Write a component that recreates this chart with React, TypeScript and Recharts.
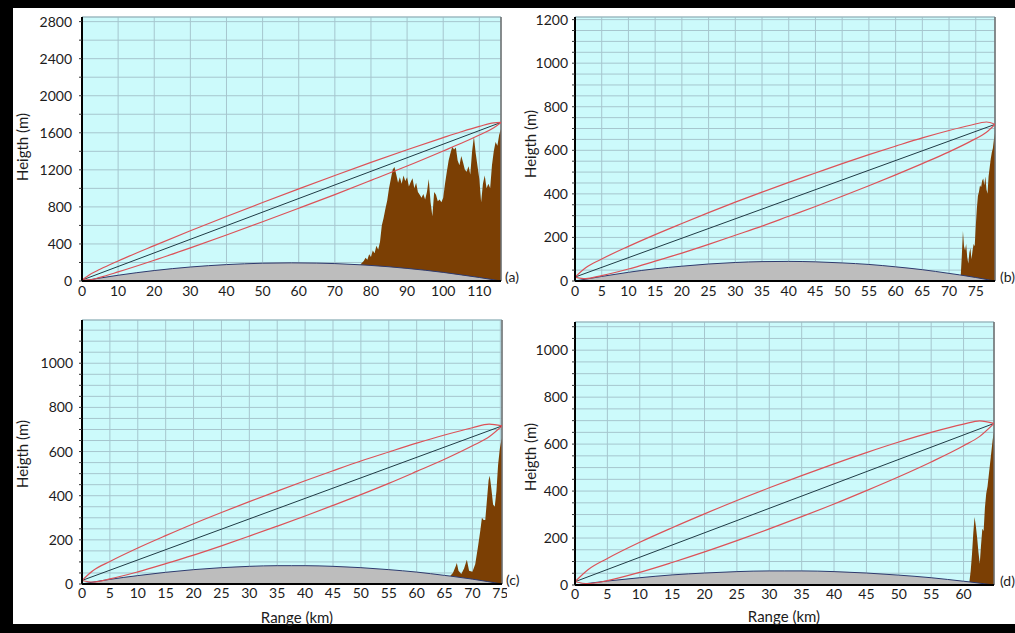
import { ComposedChart, Area, Line, XAxis, YAxis, CartesianGrid, ReferenceLine } from 'recharts';

// colours
const SKY = '#CCFAFB';
const GRID = '#A6C6CE';
const BROWN = '#7B3F04';
const EARTH = '#BDBDBD';
const NAVY = '#2E3A6E';
const RED = '#DC5258';
const LOS = '#1F3B45';
const FONT = 'Lato, "Open Sans", sans-serif';
const INK = '#1c1c1c';

// ---------- panel (a) ----------
const xTicksA = [0, 10, 20, 30, 40, 50, 60, 70, 80, 90, 100, 110];
const yTicksA = [0, 200, 400, 600, 800, 1000, 1200, 1400, 1600, 1800, 2000, 2200, 2400, 2600, 2800];
const bulgeXA = [0, 5, 10, 20, 30, 40, 50, 58, 65, 70, 77, 80, 90, 100, 105, 110, 116];
const bulgeHA = [0, 32, 62, 113, 151, 177, 192, 196, 193, 188, 175, 168, 136, 93, 66, 38, 0];
const fresXA = [0, 2, 5, 10, 20, 30, 40, 50, 60, 70, 80, 90, 100, 105, 110, 114, 116];
const fresUpA = [10, 66, 126, 216, 382, 542, 696, 847, 995, 1139, 1280, 1417, 1548, 1611, 1669, 1708, 1712];
const fresLowA = [10, 12, 40, 98, 224, 358, 496, 639, 785, 933, 1086, 1241, 1404, 1487, 1577, 1654, 1712];
const losA: [number, number][] = [[0, 10], [116, 1712]];
const terrainA: [number, number][] = [
  [77, 175], [78, 215], [78.5, 250], [79, 230], [79.5, 290], [80, 260], [80.5, 330], [81, 300],
  [81.5, 380], [82, 340], [82.5, 420], [83, 600], [83.5, 680], [84, 780], [84.5, 870], [85, 1000],
  [85.5, 1100], [86, 1200], [86.5, 1230], [87, 1150], [87.5, 1060], [88, 1120], [88.5, 1050], [89, 1140],
  [89.5, 1080], [90, 1120], [90.5, 1020], [91, 1070], [91.5, 1110], [92, 1000], [92.5, 1060], [93, 960],
  [93.5, 930], [94, 900], [94.5, 940], [95, 880], [95.5, 960], [96, 1100], [96.5, 850], [97, 700],
  [97.5, 960], [98, 930], [98.5, 860], [99, 880], [99.5, 850], [100, 900], [100.5, 1050], [101, 1180],
  [101.5, 1300], [102, 1380], [102.5, 1450], [103, 1420], [103.5, 1440], [104, 1300], [104.5, 1250], [105, 1350],
  [105.5, 1280], [106, 1200], [106.5, 1180], [107, 1240], [107.5, 1150], [108, 1400], [108.5, 1560], [109, 1380],
  [109.5, 1240], [110, 1100], [110.5, 850], [111, 1050], [111.5, 1140], [112, 1000], [112.5, 1050], [113, 1000],
  [113.5, 1250], [114, 1400], [114.5, 1500], [115, 1460], [115.5, 1580], [116, 1640],
];

// ---------- panel (b) ----------
const xTicksB = [0, 5, 10, 15, 20, 25, 30, 35, 40, 45, 50, 55, 60, 65, 70, 75];
const yTicksB = [0, 50, 100, 150, 200, 250, 300, 350, 400, 450, 500, 550, 600, 650, 700, 750, 800, 850, 900, 950, 1000, 1050, 1100, 1150, 1200];
const bulgeXB = [0, 5, 10, 15, 20, 25, 30, 35, 40, 45, 50, 55, 60, 65, 70, 72, 75, 78.6];
const bulgeHB = [0, 21, 40, 56, 68, 78, 85, 89, 90, 88, 83, 76, 65, 52, 35, 28, 16, 0];
const fresXB = [0, 2, 5, 10, 15, 20, 25, 30, 35, 40, 45, 50, 55, 60, 65, 70, 74, 77, 78.6];
const fresUpB = [18, 61, 101, 159, 213, 264, 314, 362, 408, 453, 496, 539, 580, 619, 657, 691, 715, 730, 719];
const fresLowB = [18, 11, 25, 55, 91, 128, 168, 210, 252, 297, 342, 389, 437, 487, 539, 593, 641, 683, 719];
const losB: [number, number][] = [[0, 18], [78.6, 719]];
const terrainB: [number, number][] = [
  [72.2, 27], [72.4, 120], [72.6, 230], [72.8, 160], [73, 140], [73.2, 170], [73.4, 110], [73.6, 80],
  [73.8, 130], [74, 150], [74.2, 100], [74.4, 140], [74.6, 170], [74.8, 160], [75, 250], [75.2, 330],
  [75.4, 390], [75.6, 410], [75.8, 440], [76, 430], [76.2, 460], [76.4, 470], [76.6, 440], [76.8, 480],
  [77, 420], [77.2, 400], [77.4, 480], [77.6, 520], [77.8, 560], [78, 590], [78.2, 610], [78.4, 650], [78.6, 680],
];

// ---------- panel (c) ----------
const xTicksC = [0, 5, 10, 15, 20, 25, 30, 35, 40, 45, 50, 55, 60, 65, 70, 75];
const yTicksC = [0, 50, 100, 150, 200, 250, 300, 350, 400, 450, 500, 550, 600, 650, 700, 750, 800, 850, 900, 950, 1000, 1050, 1100, 1150];
const bulgeXC = [0, 5, 10, 15, 20, 25, 30, 35, 37.6, 40, 45, 50, 55, 60, 65, 66, 70, 75.3];
const bulgeHC = [0, 21, 38, 53, 65, 74, 80, 83, 83, 83, 80, 74, 65, 54, 39, 36, 22, 0];
const fresXC = [0, 2, 5, 10, 15, 20, 25, 30, 35, 40, 45, 50, 55, 60, 65, 70, 73, 75.3];
const fresUpC = [16, 61, 102, 163, 219, 273, 324, 373, 421, 468, 513, 557, 598, 638, 675, 708, 724, 716];
const fresLowC = [16, 9, 23, 55, 92, 131, 173, 217, 262, 308, 356, 405, 456, 510, 565, 626, 667, 716];
const losC: [number, number][] = [[0, 16], [75.3, 716]];
const terrainC: [number, number][] = [
  [66, 36], [66.5, 50], [67, 80], [67.2, 95], [67.5, 60], [68, 45], [68.5, 70], [69, 110],
  [69.4, 60], [70, 55], [70.5, 90], [71, 170], [71.4, 240], [71.7, 300], [72, 290], [72.3, 290],
  [72.6, 380], [72.9, 470], [73.1, 490], [73.4, 430], [73.7, 360], [74, 350], [74.3, 420], [74.6, 540],
  [74.9, 610], [75.1, 640], [75.3, 660],
];

// ---------- panel (d) ----------
const xTicksD = [0, 5, 10, 15, 20, 25, 30, 35, 40, 45, 50, 55, 60];
const yTicksD = [0, 50, 100, 150, 200, 250, 300, 350, 400, 450, 500, 550, 600, 650, 700, 750, 800, 850, 900, 950, 1000, 1050, 1100];
const bulgeXD = [0, 5, 10, 15, 20, 25, 30, 32.4, 35, 40, 45, 50, 55, 60, 61, 64.7];
const bulgeHD = [0, 17, 31, 43, 51, 57, 60, 60, 60, 57, 51, 42, 31, 16, 13, 0];
const fresXD = [0, 2, 5, 10, 15, 20, 25, 30, 35, 40, 45, 50, 55, 60, 62.5, 64.7];
const fresUpD = [14, 65, 113, 182, 244, 303, 360, 414, 466, 516, 564, 609, 650, 685, 699, 688];
const fresLowD = [14, 6, 19, 54, 96, 141, 189, 239, 291, 345, 402, 461, 524, 593, 633, 688];
const losD: [number, number][] = [[0, 14], [64.7, 688]];
const terrainD: [number, number][] = [
  [60.9, 13], [61.1, 60], [61.3, 130], [61.5, 220], [61.7, 290], [61.9, 250], [62.1, 200], [62.3, 140],
  [62.5, 90], [62.7, 170], [62.9, 240], [63.1, 230], [63.3, 330], [63.5, 390], [63.7, 420], [63.9, 470],
  [64.1, 520], [64.3, 570], [64.5, 620], [64.7, 650],
];

const pairs = (p: [number, number][]) => p.map(([x, h]) => ({ x, h }));
const zip = (xs: number[], hs: number[]) => xs.map((x, i) => ({ x, h: hs[i] }));
// small unlabelled tick marks along the range axis
const minorTicks = (max: number, step: number) =>
  Array.from({ length: Math.floor(max / step) + 1 }, (_, i) => +(i * step).toFixed(2));

interface Box {
  left: number; top: number; width: number; height: number;
  margin: { top: number; right: number; bottom: number; left: number };
  yWidth: number; yGap: number; xGap: number;
}

interface PanelProps {
  box: Box;
  xMax: number; yMax: number; xMinor: number;
  xTicks: number[]; yTicks: number[]; yLabelStep: number;
  terrain: [number, number][];
  bulgeX: number[]; bulgeH: number[];
  fresX: number[]; fresUp: number[]; fresLow: number[];
  los: [number, number][];
}

const tickStyle = { fontFamily: FONT, fontSize: 14, fill: INK };

function Panel(p: PanelProps) {
  const { box } = p;
  return (
    <div style={{ position: 'absolute', left: box.left, top: box.top }}>
      <ComposedChart width={box.width} height={box.height} margin={box.margin}>
        <CartesianGrid fill={SKY} stroke={GRID} strokeWidth={1} />
        <XAxis
          xAxisId="minor"
          type="number"
          dataKey="x"
          domain={[0, p.xMax]}
          ticks={minorTicks(p.xMax, p.xMinor)}
          interval={0}
          allowDataOverflow
          height={0}
          axisLine={false}
          tick={false}
          tickSize={3}
          tickLine={{ stroke: '#333' }}
        />
        <XAxis
          type="number"
          dataKey="x"
          domain={[0, p.xMax]}
          ticks={p.xTicks}
          interval={0}
          allowDataOverflow
          height={24}
          tickSize={4}
          tickLine={false}
          tickMargin={p.box.xGap}
          axisLine={{ stroke: '#000', strokeWidth: 2 }}
          tick={tickStyle}
        />
        <YAxis
          type="number"
          domain={[0, p.yMax]}
          ticks={p.yTicks}
          interval={0}
          allowDataOverflow
          width={box.yWidth}
          tickSize={3}
          tickLine={{ stroke: '#333' }}
          tickMargin={box.yGap}
          axisLine={{ stroke: '#000', strokeWidth: 2 }}
          tick={tickStyle}
          tickFormatter={(v: number) => (v % p.yLabelStep === 0 ? String(v) : '')}
        />
        <ReferenceLine y={p.yMax} stroke="#98B4BB" />
        <ReferenceLine x={p.xMax} stroke="#6f6f6f" strokeWidth={1.5} />
        <Area data={pairs(p.terrain)} dataKey="h" type="linear" stroke="none" fill={BROWN} fillOpacity={1} isAnimationActive={false} />
        <Area data={zip(p.bulgeX, p.bulgeH)} dataKey="h" type="monotone" stroke={NAVY} strokeWidth={1} fill={EARTH} fillOpacity={1} isAnimationActive={false} />
        <Line data={pairs(p.los)} dataKey="h" type="linear" stroke={LOS} strokeWidth={1} dot={false} isAnimationActive={false} />
        <Line data={zip(p.fresX, p.fresUp)} dataKey="h" type="monotone" stroke={RED} strokeWidth={1.2} dot={false} isAnimationActive={false} />
        <Line data={zip(p.fresX, p.fresLow)} dataKey="h" type="monotone" stroke={RED} strokeWidth={1.2} dot={false} isAnimationActive={false} />
      </ComposedChart>
    </div>
  );
}

const textStyle = { position: 'absolute' as const, fontFamily: FONT, fontSize: 15, color: INK, whiteSpace: 'nowrap' as const, lineHeight: 1 };

function YTitle({ cx, cy }: { cx: number; cy: number }) {
  return (
    <div style={{ ...textStyle, left: cx, top: cy, transform: 'translate(-50%, -50%) rotate(-90deg)' }}>Heigth (m)</div>
  );
}

function XTitle({ cx, cy }: { cx: number; cy: number }) {
  return <div style={{ ...textStyle, left: cx, top: cy, transform: 'translate(-50%, -50%)' }}>Range (km)</div>;
}

function Tag({ x, cy, t }: { x: number; cy: number; t: string }) {
  return <div style={{ ...textStyle, fontSize: 14, left: x, top: cy, transform: 'translateY(-50%)' }}>{t}</div>;
}

export default function App() {
  return (
    <div style={{ position: 'absolute', left: 0, top: 0, width: 1015, height: 633, background: '#000', overflow: 'hidden' }}>
      <div style={{ position: 'absolute', left: 13, top: 8, width: 1002, height: 616, background: '#fff' }} />
      <Panel
        box={{ left: 0, top: 0, width: 507, height: 310, margin: { top: 17, right: 6, bottom: 5, left: 0 }, yWidth: 82, yGap: 7, xGap: 1 }}
        xMax={116} yMax={2850} xMinor={2} xTicks={xTicksA} yTicks={yTicksA} yLabelStep={400}
        terrain={terrainA} bulgeX={bulgeXA} bulgeH={bulgeHA}
        fresX={fresXA} fresUp={fresUpA} fresLow={fresLowA} los={losA}
      />
      <Panel
        box={{ left: 505, top: 0, width: 500, height: 310, margin: { top: 17, right: 10, bottom: 5, left: 0 }, yWidth: 70, yGap: 4, xGap: 1 }}
        xMax={78.6} yMax={1212} xMinor={1} xTicks={xTicksB} yTicks={yTicksB} yLabelStep={200}
        terrain={terrainB} bulgeX={bulgeXB} bulgeH={bulgeHB}
        fresX={fresXB} fresUp={fresUpB} fresLow={fresLowB} los={losB}
      />
      <Panel
        box={{ left: 0, top: 300, width: 507, height: 310, margin: { top: 20, right: 5, bottom: 2, left: 0 }, yWidth: 82, yGap: 6, xGap: 0 }}
        xMax={75.3} yMax={1196} xMinor={1} xTicks={xTicksC} yTicks={yTicksC} yLabelStep={200}
        terrain={terrainC} bulgeX={bulgeXC} bulgeH={bulgeHC}
        fresX={fresXC} fresUp={fresUpC} fresLow={fresLowC} los={losC}
      />
      <Panel
        box={{ left: 505, top: 300, width: 500, height: 310, margin: { top: 22, right: 11, bottom: 1, left: 0 }, yWidth: 70, yGap: 4, xGap: 0 }}
        xMax={64.7} yMax={1120} xMinor={1} xTicks={xTicksD} yTicks={yTicksD} yLabelStep={200}
        terrain={terrainD} bulgeX={bulgeXD} bulgeH={bulgeHD}
        fresX={fresXD} fresUp={fresUpD} fresLow={fresLowD} los={losD}
      />
      <YTitle cx={22} cy={147} />
      <YTitle cx={530} cy={144} />
      <YTitle cx={22} cy={454} />
      <YTitle cx={530} cy={457} />
      <XTitle cx={297} cy={617} />
      <XTitle cx={784} cy={616} />
      <Tag x={505} cy={277} t="(a)" />
      <Tag x={1000} cy={277} t="(b)" />
      <Tag x={506} cy={580} t="(c)" />
      <Tag x={1000} cy={581} t="(d)" />
    </div>
  );
}
